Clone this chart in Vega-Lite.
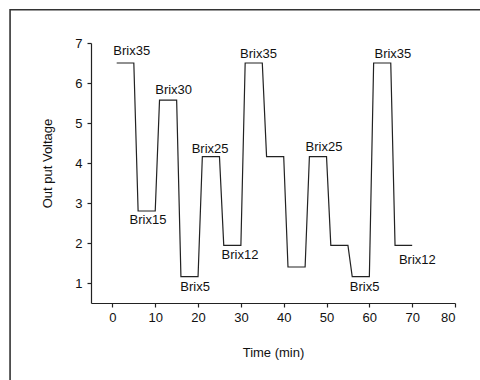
{
  "$schema": "https://vega.github.io/schema/vega-lite/v6.json",
  "width": 364,
  "height": 260,
  "autosize": {"type": "none"},
  "padding": {"left": 91, "top": 43, "right": 25, "bottom": 77},
  "background": "white",
  "config": {
    "view": {"stroke": null},
    "font": "Liberation Sans",
    "axis": {
      "grid": false,
      "domainColor": "#222",
      "domainWidth": 1.2,
      "tickColor": "#222",
      "tickWidth": 1.2,
      "labelColor": "#111",
      "titleColor": "#111",
      "labelFont": "Liberation Sans",
      "titleFont": "Liberation Sans",
      "labelFontSize": 13,
      "titleFontSize": 13,
      "titleFontWeight": "normal"
    }
  },
  "datasets": {
    "trace": [
      {"time": 1, "voltage": 6.5}, {"time": 5, "voltage": 6.5},
      {"time": 6, "voltage": 2.8}, {"time": 10, "voltage": 2.8},
      {"time": 11, "voltage": 5.57}, {"time": 15, "voltage": 5.57},
      {"time": 16, "voltage": 1.16}, {"time": 20, "voltage": 1.16},
      {"time": 21, "voltage": 4.16}, {"time": 25, "voltage": 4.16},
      {"time": 26, "voltage": 1.94}, {"time": 30, "voltage": 1.94},
      {"time": 31, "voltage": 6.5}, {"time": 35, "voltage": 6.5},
      {"time": 36, "voltage": 4.16}, {"time": 40, "voltage": 4.16},
      {"time": 41, "voltage": 1.4}, {"time": 45, "voltage": 1.4},
      {"time": 46, "voltage": 4.16}, {"time": 50, "voltage": 4.16},
      {"time": 51, "voltage": 1.94}, {"time": 55, "voltage": 1.94},
      {"time": 56, "voltage": 1.16}, {"time": 60, "voltage": 1.16},
      {"time": 61, "voltage": 6.5}, {"time": 65, "voltage": 6.5},
      {"time": 66, "voltage": 1.94}, {"time": 70, "voltage": 1.94}
    ],
    "brix": [
      {"time": 4.5, "voltage": 6.81, "name": "Brix35"},
      {"time": 8.3, "voltage": 2.58, "name": "Brix15"},
      {"time": 14.3, "voltage": 5.83, "name": "Brix30"},
      {"time": 22.8, "voltage": 4.35, "name": "Brix25"},
      {"time": 19.3, "voltage": 0.89, "name": "Brix5"},
      {"time": 29.8, "voltage": 1.69, "name": "Brix12"},
      {"time": 34.1, "voltage": 6.72, "name": "Brix35"},
      {"time": 49.4, "voltage": 4.41, "name": "Brix25"},
      {"time": 58.9, "voltage": 0.89, "name": "Brix5"},
      {"time": 65.5, "voltage": 6.73, "name": "Brix35"},
      {"time": 71.2, "voltage": 1.58, "name": "Brix12"}
    ]
  },
  "layer": [
    {
      "data": {"name": "trace"},
      "mark": {"type": "line", "color": "#222", "strokeWidth": 1.2},
      "encoding": {
        "x": {
          "field": "time", "type": "quantitative",
          "scale": {"domain": [-5, 80], "nice": false, "zero": false},
          "axis": {
            "title": "Time (min)",
            "values": [0, 10, 20, 30, 40, 50, 60, 70, 80],
            "tickSize": 4,
            "labelPadding": 4,
            "titlePadding": 22
          }
        },
        "y": {
          "field": "voltage", "type": "quantitative",
          "scale": {"domain": [0.5, 7], "nice": false, "zero": false},
          "axis": {
            "title": "Out put Voltage",
            "values": [1, 2, 3, 4, 5, 6, 7],
            "tickSize": 4,
            "labelPadding": 5,
            "titlePadding": 20,
            "titleY": 120
          }
        }
      }
    },
    {
      "data": {"name": "brix"},
      "mark": {"type": "text", "font": "Liberation Sans", "fontSize": 13, "color": "#111", "align": "center", "baseline": "middle"},
      "encoding": {
        "x": {"field": "time", "type": "quantitative"},
        "y": {"field": "voltage", "type": "quantitative"},
        "text": {"field": "name"}
      }
    },
    {
      "data": {"values": [{}]},
      "mark": {"type": "rect", "fill": null, "stroke": "#333", "strokeWidth": 1.6, "clip": false},
      "encoding": {
        "x": {"datum": -23.9, "type": "quantitative"},
        "x2": {"datum": 95},
        "y": {"datum": 7.83, "type": "quantitative"},
        "y2": {"datum": -2.5}
      }
    }
  ]
}
